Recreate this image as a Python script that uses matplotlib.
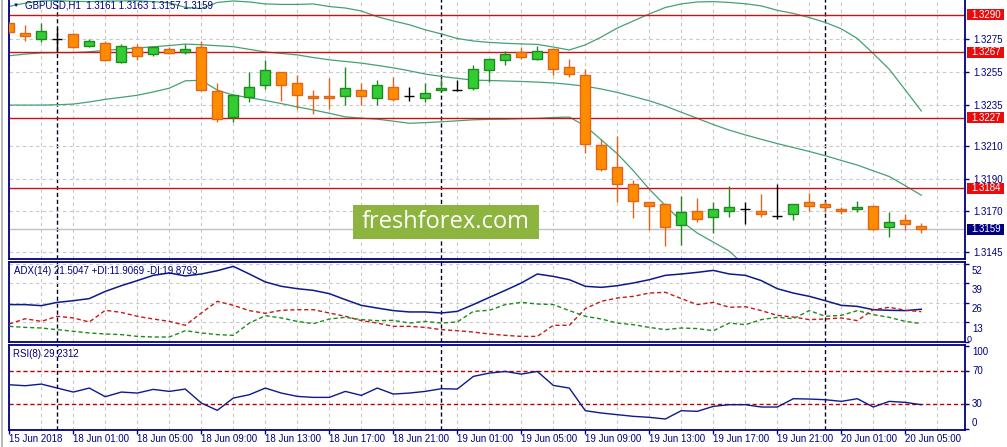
import numpy as np
import matplotlib.pyplot as plt
from matplotlib.patches import Rectangle
from matplotlib.transforms import ScaledTranslation, blended_transform_factory

plt.rcParams['font.family'] = ['Liberation Sans', 'DejaVu Sans']

# GBPUSD H1 candles (one per hour, oldest first)
opens = [1.32847, 1.32787, 1.32752, 1.32748, 1.32781, 1.32707, 1.32725, 1.32610, 1.32701, 1.32659,
         1.32688, 1.32673, 1.32701, 1.32433, 1.32276, 1.32399, 1.32468, 1.32549, 1.32480, 1.32402,
         1.32402, 1.32402, 1.32439, 1.32389, 1.32456, 1.32402, 1.32389, 1.32439, 1.32439, 1.32451,
         1.32561, 1.32622, 1.32670, 1.32628, 1.32688, 1.32580, 1.32530, 1.32102, 1.31968, 1.31864,
         1.31754, 1.31742, 1.31614, 1.31699, 1.31663, 1.31699, 1.31712, 1.31699, 1.31674, 1.31681,
         1.31754, 1.31742, 1.31712, 1.31712, 1.31730, 1.31602, 1.31646, 1.31610]
highs = [1.32857, 1.32837, 1.32851, 1.32817, 1.32787, 1.32748, 1.32738, 1.32721, 1.32721, 1.32704,
         1.32701, 1.32721, 1.32738, 1.32480, 1.32414, 1.32549, 1.32624, 1.32552, 1.32530, 1.32439,
         1.32511, 1.32580, 1.32480, 1.32499, 1.32518, 1.32456, 1.32480, 1.32511, 1.32499, 1.32591,
         1.32631, 1.32676, 1.32701, 1.32707, 1.32699, 1.32628, 1.32567, 1.32139, 1.32158, 1.31888,
         1.31758, 1.31749, 1.31791, 1.31779, 1.31754, 1.31852, 1.31754, 1.31803, 1.31864, 1.31744,
         1.31810, 1.31760, 1.31724, 1.31760, 1.31734, 1.31693, 1.31681, 1.31630]
lows = [1.32787, 1.32737, 1.32733, 1.32673, 1.32699, 1.32704, 1.32618, 1.32606, 1.32620, 1.32647,
        1.32657, 1.32657, 1.32434, 1.32245, 1.32245, 1.32368, 1.32449, 1.32375, 1.32322, 1.32291,
        1.32322, 1.32346, 1.32346, 1.32346, 1.32375, 1.32371, 1.32368, 1.32436, 1.32433, 1.32439,
        1.32487, 1.32591, 1.32628, 1.32625, 1.32530, 1.32518, 1.32053, 1.31943, 1.31754, 1.31662,
        1.31583, 1.31491, 1.31497, 1.31632, 1.31565, 1.31663, 1.31620, 1.31663, 1.31651, 1.31645,
        1.31699, 1.31693, 1.31681, 1.31693, 1.31586, 1.31541, 1.31583, 1.31570]
closes = [1.32795, 1.32767, 1.32797, 1.32748, 1.32701, 1.32738, 1.32622, 1.32707, 1.32647, 1.32701,
          1.32667, 1.32688, 1.32439, 1.32266, 1.32408, 1.32456, 1.32560, 1.32468, 1.32408, 1.32389,
          1.32389, 1.32451, 1.32402, 1.32468, 1.32384, 1.32402, 1.32420, 1.32451, 1.32439, 1.32567,
          1.32628, 1.32659, 1.32641, 1.32676, 1.32567, 1.32536, 1.32108, 1.31961, 1.31869, 1.31760,
          1.31730, 1.31602, 1.31693, 1.31651, 1.31712, 1.31724, 1.31712, 1.31681, 1.31674, 1.31742,
          1.31730, 1.31724, 1.31699, 1.31724, 1.31589, 1.31633, 1.31621, 1.31590]

# Bollinger bands
bb_upper = [1.32950, 1.32970, 1.32983, 1.32985, 1.32981, 1.32979, 1.32982, 1.32983, 1.32984, 1.32979,
            1.32972, 1.32944, 1.32937, 1.32974, 1.32983, 1.32977, 1.32965, 1.32962, 1.32962, 1.32965,
            1.32949, 1.32940, 1.32922, 1.32887, 1.32861, 1.32838, 1.32807, 1.32782, 1.32754, 1.32739,
            1.32730, 1.32725, 1.32721, 1.32718, 1.32702, 1.32684, 1.32715, 1.32763, 1.32818, 1.32861,
            1.32904, 1.32943, 1.32965, 1.32977, 1.32979, 1.32974, 1.32966, 1.32953, 1.32926, 1.32907,
            1.32882, 1.32852, 1.32813, 1.32754, 1.32662, 1.32566, 1.32440, 1.32312]
bb_middle = [1.32649, 1.32659, 1.32666, 1.32668, 1.32668, 1.32673, 1.32682, 1.32689, 1.32696, 1.32704,
             1.32711, 1.32720, 1.32716, 1.32710, 1.32704, 1.32688, 1.32672, 1.32663, 1.32654, 1.32638,
             1.32624, 1.32614, 1.32604, 1.32590, 1.32575, 1.32557, 1.32537, 1.32523, 1.32511, 1.32500,
             1.32498, 1.32495, 1.32492, 1.32488, 1.32483, 1.32474, 1.32463, 1.32446, 1.32425, 1.32400,
             1.32374, 1.32342, 1.32304, 1.32267, 1.32229, 1.32195, 1.32166, 1.32139, 1.32113, 1.32089,
             1.32065, 1.32039, 1.32010, 1.31982, 1.31947, 1.31912, 1.31856, 1.31798]
bb_lower = [1.32348, 1.32348, 1.32348, 1.32350, 1.32354, 1.32367, 1.32383, 1.32395, 1.32408, 1.32428,
            1.32451, 1.32496, 1.32499, 1.32439, 1.32409, 1.32393, 1.32376, 1.32357, 1.32337, 1.32318,
            1.32298, 1.32276, 1.32268, 1.32262, 1.32250, 1.32237, 1.32241, 1.32246, 1.32252, 1.32258,
            1.32261, 1.32262, 1.32265, 1.32267, 1.32272, 1.32275, 1.32220, 1.32136, 1.32051, 1.31948,
            1.31835, 1.31735, 1.31640, 1.31567, 1.31512, 1.31457, 1.31366, 1.31325, 1.31301, 1.31271,
            1.31248, 1.31226, 1.31208, 1.31210, 1.31232, 1.31258, 1.31272, 1.31284]

# ADX(14)
adx_main = [24.6, 24.6, 23.9, 26.1, 27.2, 28.6, 33.4, 37.2, 40.6, 44.1, 45.7, 43.7, 45.0, 47.2, 50.1,
            45.0, 39.7, 36.8, 35.2, 34.1, 31.9, 27.9, 24.1, 22.3, 20.6, 19.7, 19.7, 19.0, 20.1, 24.6,
            29.4, 34.1, 39.0, 45.0, 43.4, 41.2, 36.8, 36.1, 37.2, 39.0, 41.2, 44.1, 45.0, 46.1, 47.4,
            45.0, 44.1, 40.6, 35.2, 32.3, 30.1, 27.2, 24.1, 23.4, 21.2, 20.8, 20.6, 21.5]
plus_di = [10.1, 9.4, 9.0, 7.9, 6.8, 5.7, 5.0, 4.6, 3.4, 3.0, 3.0, 7.2, 5.7, 4.6, 4.1, 12.3, 17.2,
           15.7, 13.4, 11.9, 15.0, 16.1, 14.6, 13.9, 14.1, 12.3, 13.4, 12.3, 13.0, 20.1, 20.8, 24.6,
           26.1, 25.0, 24.6, 20.6, 16.8, 15.0, 12.3, 11.2, 9.4, 7.9, 9.0, 8.6, 7.2, 12.3, 11.2, 14.6,
           16.1, 15.2, 20.6, 16.8, 17.4, 20.6, 17.9, 16.1, 13.4, 11.9]
minus_di = [11.7, 15.2, 13.4, 16.8, 15.7, 13.0, 20.8, 19.4, 16.8, 15.0, 13.4, 10.8, 19.0, 26.8, 24.1,
            20.6, 18.8, 20.8, 21.2, 21.2, 19.0, 16.8, 13.9, 12.3, 10.1, 10.1, 9.4, 7.9, 7.2, 6.3, 5.0,
            4.1, 3.4, 3.4, 10.8, 10.8, 21.9, 26.8, 29.0, 30.1, 32.3, 32.8, 28.6, 24.6, 26.1, 22.8,
            23.2, 20.6, 17.4, 16.3, 14.6, 15.0, 15.7, 13.9, 21.2, 22.8, 20.8, 19.9]

# RSI(8)
rsi = [53.2, 52.0, 54.0, 49.2, 44.4, 49.2, 38.8, 44.4, 43.2, 47.6, 45.2, 48.0, 31.2, 22.4, 37.2, 41.2,
       49.2, 43.2, 39.2, 38.0, 38.0, 45.2, 40.4, 49.2, 42.0, 43.2, 45.2, 48.4, 48.0, 63.2, 67.2, 69.2,
       66.0, 69.2, 52.4, 49.2, 22.0, 19.2, 17.2, 15.2, 14.0, 12.0, 22.0, 21.2, 27.2, 29.2, 29.2, 26.4,
       26.4, 36.4, 36.0, 35.2, 33.2, 36.4, 26.4, 33.2, 32.0, 29.2]

time_labels = ['15 Jun 2018', '18 Jun 01:00', '18 Jun 05:00', '18 Jun 09:00', '18 Jun 13:00',
               '18 Jun 17:00', '18 Jun 21:00', '19 Jun 01:00', '19 Jun 05:00', '19 Jun 09:00',
               '19 Jun 13:00', '19 Jun 17:00', '19 Jun 21:00', '20 Jun 01:00', '20 Jun 05:00']
day_breaks = [3, 27, 51]
levels = [1.3290, 1.3267, 1.3227, 1.3184]
last_price = 1.3159
price_ticks = [1.3275, 1.3255, 1.3235, 1.3210, 1.3190, 1.3170, 1.3145]
adx_ticks = [0, 13, 26, 39, 52]
rsi_ticks = [0, 30, 70, 100]
rsi_levels = [30, 70]

navy = '#000080'
grid_col = '#c8c8c8'
band_col = '#45a174'
fs = 7

W, H = 1007, 447
fig = plt.figure(figsize=(W / 100, H / 100), dpi=100)
fig.patch.set_facecolor('white')


def px_axes(left, top, right, bottom):
    return fig.add_axes([left / W, 1 - bottom / H, (right - left) / W, (bottom - top) / H])


ax = px_axes(8.5, -1, 965, 259)
ax_adx = px_axes(8.5, 262, 965, 341.5)
ax_rsi = px_axes(8.5, 345, 965, 429.7)

n = len(closes)
x = np.arange(n)

for a in (ax, ax_adx, ax_rsi):
    a.set_facecolor('white')
    a.set_xlim(-0.05, 59.73)
    for s in a.spines.values():
        s.set_color(navy)
        s.set_linewidth(1.3)
    a.yaxis.tick_right()
    a.tick_params(axis='y', colors=navy, labelcolor=navy, length=3, width=1, labelsize=fs, pad=3)
    a.set_xticks([])
    for b in range(0, 60, 2):
        a.axvline(b, color=grid_col, lw=0.8, ls=(0, (3, 3)), zorder=0)
    for b in day_breaks:
        a.axvline(b, color='#000020', lw=1, ls=(0, (3, 2)), zorder=1)

# ---- main price panel
ax.set_ylim(1.31409, 1.32995)
ax.set_yticks(price_ticks)
ax.set_yticklabels([f'{p:.4f}' for p in price_ticks])
ax.grid(True, axis='y', color=grid_col, lw=0.8, ls=(0, (3, 3)), zorder=0)

ax.plot(x, bb_upper, color=band_col, lw=0.9, zorder=2)
ax.plot(x, bb_middle, color=band_col, lw=0.9, zorder=2)
ax.plot(x, bb_lower, color=band_col, lw=0.9, zorder=2)

for lvl in levels:
    ax.axhline(lvl, color='#d01010', lw=1, zorder=2)
ax.axhline(last_price, color='#c0c0c0', lw=1, zorder=1)

o = np.array(opens)
h = np.array(highs)
l = np.array(lows)
c = np.array(closes)
up = c > o
down = c < o
flat = c == o
for mask, fill, edge in ((up, '#32cd32', '#1f8a1f'), (down, '#ff8c00', '#e0641a')):
    ax.vlines(x[mask], l[mask], h[mask], color=edge, lw=1, zorder=3)
    ax.bar(x[mask], np.abs(c - o)[mask], bottom=np.minimum(o, c)[mask], width=0.62,
           color=fill, edgecolor=edge, linewidth=1, zorder=4)
ax.vlines(x[flat], l[flat], h[flat], color='black', lw=1, zorder=3)
ax.hlines(c[flat], x[flat] - 0.31, x[flat] + 0.31, color='black', lw=1, zorder=4)

# price boxes on the right scale
tr = blended_transform_factory(ax.transAxes, ax.transData)
half = 5.5 / 16389
for lvl, col in [(v, '#e80c0c') for v in levels] + [(last_price, navy)]:
    ax.add_patch(Rectangle((1.0018, lvl - half), 0.0385, 2 * half, transform=tr,
                           facecolor=col, edgecolor='none', clip_on=False, zorder=5))
    ax.text(1.0062, lvl, f'{lvl:.4f}', transform=tr, color='white', fontsize=fs,
            ha='left', va='center', clip_on=False, zorder=6)

# ---- ADX panel
ax_adx.set_ylim(0, 53.0)
ax_adx.set_yticks(adx_ticks)
ax_adx.set_yticklabels([])
ax_adx.grid(True, axis='y', color=grid_col, lw=0.8, ls=(0, (3, 3)), zorder=0)
ax_adx.plot(x, adx_main, color='#0c1a8c', lw=1.1, zorder=3)
ax_adx.plot(x, minus_di, color='#c81818', lw=1, ls=(0, (3, 2)), zorder=3)
ax_adx.plot(x, plus_di, color='#1e8a1e', lw=1, ls=(0, (3, 2)), zorder=3)
tra = blended_transform_factory(ax_adx.transAxes, ax_adx.transData)
for v in adx_ticks:
    dy = 2.5 if v == 0 else -7
    dx = 2 if v == 0 else 7
    size = fs - 0.5 if v == 0 else fs
    ax_adx.text(1.0, v, str(v), fontsize=size, color=navy, ha='left', va='center',
                transform=tra + ScaledTranslation(dx / 100, dy / 100, fig.dpi_scale_trans),
                clip_on=False)

# ---- RSI panel
ax_rsi.set_ylim(-0.87, 101.0)
ax_rsi.set_yticks(rsi_ticks)
ax_rsi.set_yticklabels([])
for lv in rsi_levels:
    ax_rsi.axhline(lv, color='#c00000', lw=1, ls=(0, (3, 2)), zorder=2)
ax_rsi.plot(x, rsi, color='#0c1a8c', lw=1, zorder=3)
trr = blended_transform_factory(ax_rsi.transAxes, ax_rsi.transData)
for v in rsi_ticks:
    dy = {100: -6, 0: 6}.get(v, 0)
    ax_rsi.text(1.0, v, str(v), fontsize=fs, color=navy, ha='left', va='center',
                transform=trr + ScaledTranslation(7 / 100, dy / 100, fig.dpi_scale_trans),
                clip_on=False)

ax_rsi.set_xticks(np.arange(0, n, 4))
ax_rsi.set_xticklabels(time_labels, ha='left')
ax_rsi.tick_params(axis='x', direction='out', length=3, width=1, colors=navy,
                   labelcolor=navy, labelsize=fs, pad=0)

# ---- captions
fig.text(13 / W, 1 - 5.5 / H, '\u25bc', fontsize=4.5, color=navy, va='center')
fig.text(25 / W, 1 - 5.5 / H, 'GBPUSD,H1  1.3161 1.3163 1.3157 1.3159', fontsize=fs,
         color=navy, va='center')
fig.text(14 / W, 1 - 271 / H, 'ADX(14) 21.5047 +DI:11.9069 -DI:19.8793', fontsize=fs,
         color=navy, va='center')
fig.text(13 / W, 1 - 354 / H, 'RSI(8) 29.2312', fontsize=fs, color=navy, va='center')

# window edge at the far left
fig.add_artist(Rectangle((1 / W, 0), 2 / W, 1, transform=fig.transFigure,
                         facecolor='#b8b8b8', edgecolor='none'))

# watermark
fig.add_artist(Rectangle((353 / W, 1 - 239 / H), 186 / W, 34 / H, transform=fig.transFigure,
                         facecolor='#8db43e', edgecolor='none', zorder=10))
fig.text(446 / W, 1 - 222 / H, 'freshforex.com', family='Open Sans', fontsize=17,
         color='white', ha='center', va='center', zorder=11)

fig.savefig('out.png', dpi=100, facecolor='white')
